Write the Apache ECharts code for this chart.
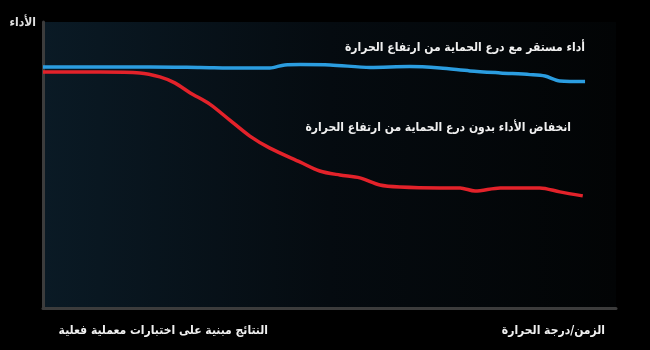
<!DOCTYPE html>
<html><head><meta charset="utf-8">
<script src="https://cdn.jsdelivr.net/npm/echarts@6/dist/echarts.min.js"></script>
<style>html,body{margin:0;padding:0;background:#000;}#c{width:650px;height:350px;}</style>
</head><body><div id="c"></div>
<script>
// Performance vs time/temperature (relative units)
const blueX = [0, 10, 18.7, 27.4, 34.4, 39.6, 42.2, 44.9, 50.1, 57.1, 64.0, 69.3, 74.5, 79.8, 85.0, 87.6, 90.2, 94.6];
const blueY = [84.3, 84.3, 84.3, 84.1, 83.9, 83.9, 85.0, 85.1, 85.0, 84.1, 84.4, 83.9, 82.9, 82.2, 81.6, 81.1, 79.4, 79.2];
const redX = [0, 10, 16.9, 20.4, 23.0, 25.7, 29.1, 32.6, 36.1, 39.6, 44.9, 48.3, 51.8, 55.3, 58.8, 62.3, 69.3, 72.8, 75.4, 79.8, 86.7, 90.2, 94.2];
const redY = [82.5, 82.5, 82.2, 80.8, 78.7, 75.2, 71.3, 65.7, 60.1, 55.9, 51.0, 47.9, 46.5, 45.5, 43.0, 42.3, 42.0, 42.0, 40.9, 42.0, 42.0, 40.6, 39.2];
const labelStable = 'أداء مستقر مع درع الحماية من ارتفاع الحرارة';
const labelDrop = 'انخفاض الأداء بدون درع الحماية من ارتفاع الحرارة';
const yName = 'الأداء';
const xName = 'الزمن/درجة الحرارة';
const footNote = 'النتائج مبنية على اختبارات معملية فعلية';

const chart = echarts.init(document.getElementById('c'), null, {renderer: 'canvas'});
const font = '"DejaVu Sans Condensed", "DejaVu Sans", sans-serif';
const zip = (xs, ys) => xs.map((x, i) => [x, ys[i]]);
chart.setOption({
  backgroundColor: '#000',
  animation: false,
  grid: {
    left: 43, right: 34, top: 22, bottom: 42, show: true, borderWidth: 0,
    backgroundColor: new echarts.graphic.LinearGradient(0, 0, 1, 0, [
      {offset: 0, color: '#0a1a25'}, {offset: 0.5, color: '#050b10'}, {offset: 1, color: '#020405'}
    ])
  },
  xAxis: {type: 'value', min: 0, max: 100, axisLine: {show: true, lineStyle: {color: '#3c3c3c', width: 3}},
    axisTick: {show: false}, axisLabel: {show: false}, splitLine: {show: false}},
  yAxis: {type: 'value', min: 0, max: 100, axisLine: {show: true, lineStyle: {color: '#3c3c3c', width: 3}},
    axisTick: {show: false}, axisLabel: {show: false}, splitLine: {show: false}},
  series: [
    {type: 'line', data: zip(blueX, blueY), smooth: 0.3, showSymbol: false, lineStyle: {color: '#2b9de0', width: 3.5}},
    {type: 'line', data: zip(redX, redY), smooth: 0.3, showSymbol: false, lineStyle: {color: '#e3222a', width: 3.5}}
  ],
  graphic: [
    {type: 'text', right: 65, top: 42, style: {text: labelStable, fill: '#f0f0f0', font: 'bold 12px ' + font}},
    {type: 'text', right: 79, top: 122, style: {text: labelDrop, fill: '#f0f0f0', font: 'bold 12px ' + font}},
    {type: 'text', right: 614, top: 17, style: {text: yName, fill: '#e0e0e0', font: 'bold 12px ' + font}},
    {type: 'text', right: 45, top: 325, style: {text: xName, fill: '#f0f0f0', font: 'bold 12px ' + font}},
    {type: 'text', right: 382, top: 325, style: {text: footNote, fill: '#f0f0f0', font: 'bold 12px ' + font}}
  ]
});
</script></body></html>
